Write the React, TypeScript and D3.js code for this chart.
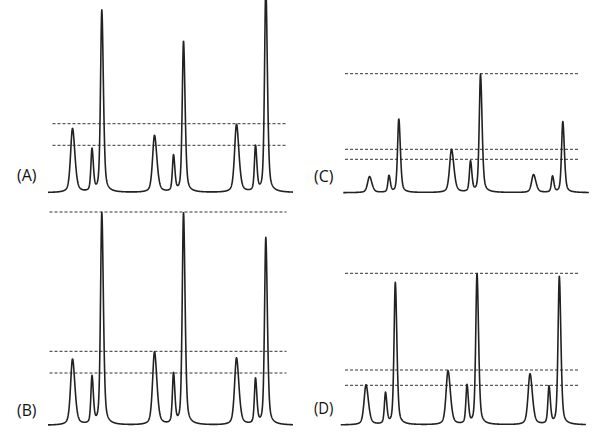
import React from "react";
import * as d3 from "d3";

// Shared retention times (x, data units) and peak widths (FWHM)
const PEAK_CENTERS = [24.5, 44, 53.8, 106.5, 125.5, 135.5, 188.5, 207.5, 217.8];
const PEAK_WIDTHS = [4.6, 2.6, 3.0, 4.6, 2.6, 3.0, 4.6, 2.6, 3.0];

// Peak heights per panel
const HEIGHTS_A = [64, 42, 182, 57, 36, 151, 68, 45, 205];
const HEIGHTS_B = [66, 47, 212, 73, 50, 212, 67, 45, 187];
const HEIGHTS_C = [16, 16.5, 73.5, 43, 30.5, 118, 18, 16, 71];
const HEIGHTS_D = [40, 31, 142, 54, 38.5, 151, 51, 37.5, 148];

// Dashed threshold levels per panel
const LEVELS_A = [69, 47.4];
const LEVELS_B = [213.3, 74, 52.3];
const LEVELS_C = [119, 43.4, 33.4];
const LEVELS_D = [151.7, 55, 39.7];

const LABELS = ["(A)", "(B)", "(C)", "(D)"];

const panels = [
  { label: LABELS[0], heights: HEIGHTS_A, levels: LEVELS_A, left: 48, start: 0, end: 245, baseline: 192.7, dash: [4.5, 238.5], lx: 17, ly: 181 },
  { label: LABELS[1], heights: HEIGHTS_B, levels: LEVELS_B, left: 48, start: 0, end: 245, baseline: 425.3, dash: [1.5, 238.5], lx: 17, ly: 416 },
  { label: LABELS[2], heights: HEIGHTS_C, levels: LEVELS_C, left: 345, start: -1.7, end: 244, baseline: 192.7, dash: [0, 234.3], lx: 314, ly: 181.5 },
  { label: LABELS[3], heights: HEIGHTS_D, levels: LEVELS_D, left: 341.5, start: -0.8, end: 244.5, baseline: 425, dash: [3.5, 237.8], lx: 314, ly: 413.5 },
];

function peakShape(dx: number, w: number) {
  const ww = dx > 0 ? w * 1.25 : w;
  const z = dx / ww;
  const g = Math.exp(-4 * Math.LN2 * z * z);
  const l = 1 / (1 + 4 * z * z);
  const eta = 0.45;
  return eta * l + (1 - eta) * g;
}

function signal(t: number, heights: number[]) {
  let s = 0;
  for (let i = 0; i < PEAK_CENTERS.length; i++) {
    s += heights[i] * peakShape(t - PEAK_CENTERS[i], PEAK_WIDTHS[i]);
  }
  return s;
}

export default function App() {
  const W = 600;
  const H = 441;
  return (
    <svg width={W} height={H} style={{ position: "absolute", left: 0, top: 0, background: "#fff" }}>
      <rect width={W} height={H} fill="#fff" />
      {panels.map((p, pi) => {
        const x = d3.scaleLinear().domain([0, 1]).range([p.left, p.left + 1]);
        const y = d3.scaleLinear().domain([0, 200]).range([p.baseline, p.baseline - 200]);
        const ts = d3.range(p.start, p.end + 0.001, 0.2);
        const line = d3
          .line<number>()
          .x((t) => x(t))
          .y((t) => y(signal(t, p.heights)));
        return (
          <g key={pi}>
            {p.levels.map((lv, li) => (
              <line
                key={li}
                x1={x(p.dash[0])}
                x2={x(p.dash[1])}
                y1={y(lv)}
                y2={y(lv)}
                stroke="#333"
                strokeWidth={1}
                strokeDasharray="3,2"
              />
            ))}
            <path d={line(ts) || ""} fill="none" stroke="#222" strokeWidth={1.6} strokeLinejoin="round" />
            <text
              x={p.lx}
              y={p.ly}
              fontFamily="Open Sans, Liberation Sans, sans-serif"
              fontSize={17}
              textLength={19.5}
              lengthAdjust="spacingAndGlyphs"
              fill="#111"
            >
              {p.label}
            </text>
          </g>
        );
      })}
    </svg>
  );
}
